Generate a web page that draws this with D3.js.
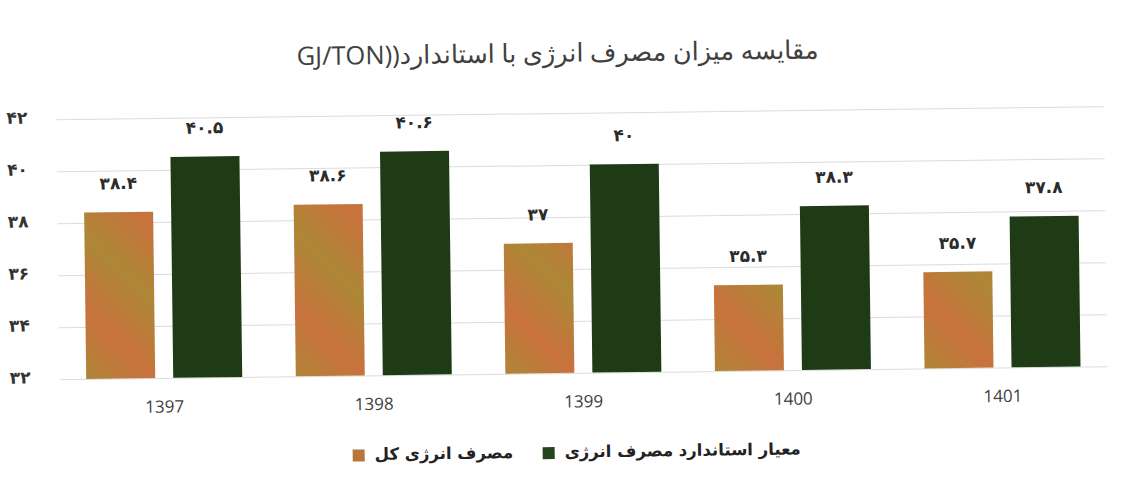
<!DOCTYPE html>
<html>
<head>
<meta charset="utf-8">
<script src="https://cdn.jsdelivr.net/npm/d3@7"></script>
<style>
  html, body { margin: 0; padding: 0; background: #ffffff; }
  svg { display: block; }
</style>
</head>
<body>
<svg id="chart" width="1122" height="479"></svg>
<script>
// ---- data ----
const years = ["1397", "1398", "1399", "1400", "1401"];
const totalConsumption = [38.4, 38.6, 37, 35.3, 35.7];
const standardConsumption = [40.5, 40.6, 40, 38.3, 37.8];
const yTicks = [32, 34, 36, 38, 40, 42];
const seriesNames = ["مصرف انرژی کل", "معیار استاندارد مصرف انرژی"];
const seriesKeys = ["total", "standard"];
const titleText = "مقایسه میزان مصرف انرژی با استاندارد((GJ/TON";

// ---- helpers ----
const faDigits = "۰۱۲۳۴۵۶۷۸۹";
const toFa = s => String(s).replace(/\d/g, d => faDigits[+d]);

const rows = years.map((y, i) => ({ year: y, total: totalConsumption[i], standard: standardConsumption[i] }));

const svg = d3.select("#chart");
const defs = svg.append("defs");

// orange diagonal banded fill
const og = defs.append("linearGradient")
  .attr("id", "orangeFill")
  .attr("gradientUnits", "userSpaceOnUse")
  .attr("spreadMethod", "reflect")
  .attr("x1", 0).attr("y1", 0).attr("x2", 38).attr("y2", -38);
og.append("stop").attr("offset", "0%").attr("stop-color", "#c8723d");
og.append("stop").attr("offset", "100%").attr("stop-color", "#ad8736");

const colors = { total: "url(#orangeFill)", standard: "#1f3b15" };
const legendColors = { total: "#b9763a", standard: "#24461a" };

const root = svg.append("g").attr("transform", "rotate(-0.72, 560, 240)");

// ---- scales ----
const x0 = d3.scaleBand().domain(years).range([57.7, 1105.7]).paddingInner(0.2557).paddingOuter(0.128);
const x1 = d3.scaleBand().domain(seriesKeys).range([0, x0.bandwidth()]).paddingInner(0.207);
const y = d3.scaleLinear().domain([32, 42]).range([373, 113]);

// ---- gridlines + y labels ----
const yAxis = d3.axisLeft(y).tickValues(yTicks).tickSize(-(1105.7 - 57.7)).tickFormat(d => toFa(d));
const yg = root.append("g").attr("transform", "translate(57.7,0)").call(yAxis);
yg.select(".domain").remove();
yg.selectAll(".tick line").attr("stroke", "#dcdcdc").attr("stroke-width", 1);
yg.selectAll(".tick text")
  .attr("x", 8 - 57.7)
  .attr("dy", "-0.1em")
  .attr("text-anchor", "start")
  .attr("dominant-baseline", "middle")
  .attr("fill", "#333")
  .style("font-family", "'DejaVu Sans', sans-serif")
  .style("font-weight", "bold")
  .style("font-size", "17px");

// ---- bars ----
const groups = root.append("g").selectAll("g")
  .data(rows).join("g")
  .attr("transform", d => `translate(${x0(d.year)},0)`);

groups.selectAll("rect")
  .data(d => seriesKeys.map(k => ({ key: k, value: d[k] })))
  .join("rect")
  .attr("x", d => x1(d.key))
  .attr("y", d => y(d.value))
  .attr("width", x1.bandwidth())
  .attr("height", d => y(32) - y(d.value))
  .attr("fill", d => colors[d.key]);

// value labels
groups.selectAll("text.val")
  .data(d => seriesKeys.map(k => ({ key: k, value: d[k] })))
  .join("text")
  .attr("class", "val")
  .attr("x", d => x1(d.key) + x1.bandwidth() / 2)
  .attr("y", d => y(d.value) - 28)
  .attr("text-anchor", "middle")
  .attr("dominant-baseline", "middle")
  .attr("fill", "#2b2b2b")
  .style("font-family", "'DejaVu Sans', sans-serif")
  .style("font-weight", "bold")
  .style("font-size", "17px")
  .text(d => toFa(d.value));

// ---- x axis labels ----
const xAxis = d3.axisBottom(x0).tickSize(0).tickPadding(0);
const xg = root.append("g").attr("transform", `translate(0,${y(32)})`).call(xAxis);
xg.select(".domain").remove();
xg.selectAll(".tick text")
  .attr("y", 30)
  .attr("dy", 0)
  .attr("dominant-baseline", "middle")
  .attr("fill", "#404040")
  .style("font-family", "'Open Sans', sans-serif")
  .style("font-size", "17px");

// ---- title ----
root.append("text")
  .attr("x", 560)
  .attr("y", 55)
  .attr("text-anchor", "middle")
  .attr("dominant-baseline", "middle")
  .attr("direction", "rtl")
  .style("direction", "rtl")
  .style("unicode-bidi", "embed")
  .attr("fill", "#404040")
  .style("font-family", "'Open Sans', 'DejaVu Sans', sans-serif")
  .style("font-size", "25.5px")
  .text(titleText);

// ---- legend ----
const legendX = [350, 540];
const legend = root.append("g").attr("transform", "translate(0,453)");
const li = legend.selectAll("g").data(seriesKeys).join("g")
  .attr("transform", (d, i) => `translate(${legendX[i]},0)`);
li.append("rect")
  .attr("x", 0).attr("y", -6).attr("width", 12).attr("height", 12)
  .attr("fill", d => legendColors[d]);
li.append("text")
  .attr("x", 22)
  .attr("y", 0)
  .attr("text-anchor", "start")
  .attr("dominant-baseline", "middle")
  .attr("fill", "#222")
  .style("font-family", "'DejaVu Sans', sans-serif")
  .style("font-weight", "bold")
  .style("font-size", "16.5px")
  .text((d, i) => seriesNames[i]);
</script>
</body>
</html>
